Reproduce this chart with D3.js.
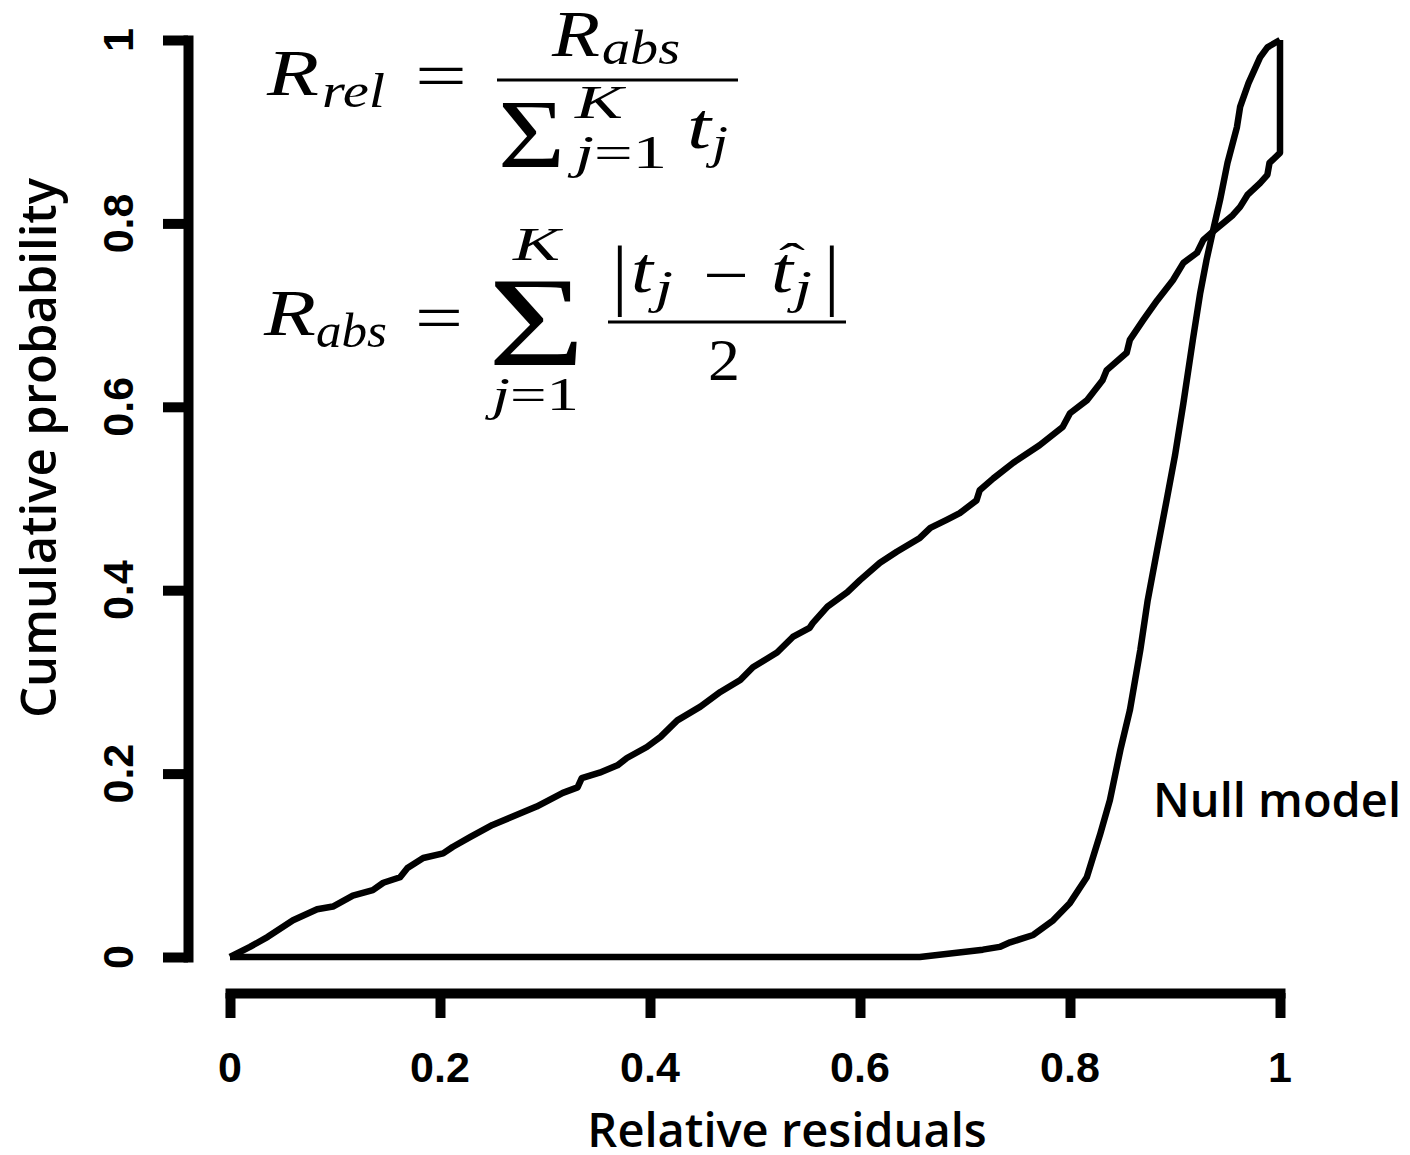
<!DOCTYPE html>
<html>
<head>
<meta charset="utf-8">
<script src="https://cdn.jsdelivr.net/npm/d3@7"></script>
<style>
  body { margin: 0; background: #fff; }
  .tick-label { font-family: "Liberation Sans", Arial, sans-serif; font-weight: bold; font-size: 43px; }
  .title { font-family: "Open Sans", "Noto Sans", sans-serif; font-weight: 600; }
  .math { font-family: "Liberation Serif", "Times New Roman", serif; }
</style>
</head>
<body>
<div id="content"></div>
<script>
const width = 1410;
const height = 1155;

// model ECDF of relative residuals
const modelX = [0, 0.019, 0.036, 0.060, 0.083, 0.098, 0.117, 0.136, 0.146, 0.162, 0.169, 0.184,
  0.203, 0.212, 0.229, 0.250, 0.267, 0.292, 0.317, 0.331, 0.335, 0.352, 0.369, 0.378, 0.397,
  0.410, 0.426, 0.448, 0.467, 0.486, 0.498, 0.521, 0.536, 0.552, 0.555, 0.569, 0.588, 0.600,
  0.619, 0.635, 0.657, 0.667, 0.683, 0.695, 0.711, 0.714, 0.727, 0.746, 0.771, 0.793, 0.800,
  0.816, 0.831, 0.835, 0.854, 0.857, 0.870, 0.883, 0.898, 0.908, 0.921, 0.927, 0.936, 0.955,
  0.962, 0.969, 0.981, 0.988, 0.990, 1.000, 1.000];
const modelY = [0, 0.011, 0.022, 0.040, 0.052, 0.055, 0.067, 0.073, 0.081, 0.087, 0.097, 0.108,
  0.113, 0.120, 0.131, 0.144, 0.152, 0.164, 0.179, 0.185, 0.195, 0.201, 0.209, 0.217, 0.229,
  0.240, 0.258, 0.273, 0.289, 0.302, 0.316, 0.332, 0.349, 0.359, 0.364, 0.382, 0.398, 0.411,
  0.430, 0.442, 0.457, 0.468, 0.477, 0.484, 0.498, 0.509, 0.522, 0.539, 0.558, 0.578, 0.593,
  0.607, 0.629, 0.640, 0.659, 0.673, 0.695, 0.716, 0.738, 0.757, 0.768, 0.782, 0.791, 0.809,
  0.818, 0.831, 0.844, 0.853, 0.866, 0.877, 1.000];

// null model ECDF
const nullX = [0, 0.657, 0.717, 0.733, 0.743, 0.765, 0.784, 0.800, 0.816, 0.829, 0.838, 0.848,
  0.857, 0.867, 0.874, 0.883, 0.892, 0.900, 0.908, 0.917, 0.924, 0.930, 0.936, 0.943, 0.950,
  0.959, 0.962, 0.970, 0.981, 0.988, 1.000];
const nullY = [0, 0, 0.008, 0.011, 0.016, 0.024, 0.040, 0.059, 0.087, 0.135, 0.171, 0.226,
  0.269, 0.335, 0.389, 0.444, 0.498, 0.547, 0.604, 0.673, 0.724, 0.760, 0.791, 0.826, 0.866,
  0.905, 0.927, 0.953, 0.981, 0.992, 1.000];

const xTicks = [0, 0.2, 0.4, 0.6, 0.8, 1];
const yTicks = [0, 0.2, 0.4, 0.6, 0.8, 1];
const xTitle = "Relative residuals";
const yTitle = "Cumulative probability";
const nullLabel = "Null model";

var svg = d3.select("#content").append("svg")
    .attr("width", width)
    .attr("height", height);

svg.append("rect").attr("width", width).attr("height", height).attr("fill", "#fff");

var x_scale = d3.scaleLinear().domain([0, 1]).range([230, 1280]);
var y_scale = d3.scaleLinear().domain([0, 1]).range([957, 40]);

// axes, R style: detached and thick
var xAxis = svg.append("g")
    .attr("transform", "translate(0, 993)")
    .call(d3.axisBottom(x_scale).tickValues(xTicks).tickSize(25).tickSizeOuter(0).tickFormat(""));
var yAxis = svg.append("g")
    .attr("transform", "translate(188, 0)")
    .call(d3.axisLeft(y_scale).tickValues(yTicks).tickSize(25).tickSizeOuter(0).tickFormat(""));

[xAxis, yAxis].forEach(g => {
    g.select(".domain").attr("stroke", "#000").attr("stroke-width", 10).attr("stroke-linecap", "square");
    g.selectAll(".tick line").attr("stroke", "#000").attr("stroke-width", 10);
});

svg.selectAll(".xlab").data(xTicks).enter().append("text")
    .attr("class", "tick-label")
    .attr("x", d => x_scale(d))
    .attr("y", 1082)
    .attr("text-anchor", "middle")
    .text(d => String(d));

svg.selectAll(".ylab").data(yTicks).enter().append("text")
    .attr("class", "tick-label")
    .attr("transform", d => `translate(133, ${y_scale(d)}) rotate(-90)`)
    .attr("text-anchor", "middle")
    .text(d => String(d));

// axis titles
svg.append("text").attr("class", "title")
    .attr("x", 787).attr("y", 1147)
    .attr("text-anchor", "middle")
    .attr("font-size", 47)
    .text(xTitle);

svg.append("text").attr("class", "title")
    .attr("transform", "translate(56, 448) rotate(-90)")
    .attr("text-anchor", "middle")
    .attr("font-size", 49)
    .text(yTitle);

// curves
var line = d3.line()
    .x(d => x_scale(d[0]))
    .y(d => y_scale(d[1]));

var modelPts = modelX.map((v, i) => [v, modelY[i]]);
var nullPts = nullX.map((v, i) => [v, nullY[i]]);

[nullPts, modelPts].forEach(pts => {
    svg.append("path")
        .attr("d", line(pts))
        .attr("fill", "none")
        .attr("stroke", "#000")
        .attr("stroke-width", 6.5)
        .attr("stroke-linejoin", "round");
});

svg.append("text").attr("class", "title")
    .attr("x", 1153).attr("y", 817)
    .attr("font-size", 47)
    .text(nullLabel);

// formulas
var math = svg.append("g").attr("class", "math");

function mtext(str, x, y, size, italic, len) {
    var t = math.append("text")
        .attr("x", x).attr("y", y)
        .attr("font-size", size)
        .attr("font-style", italic ? "italic" : "normal")
        .text(str);
    if (len) t.attr("textLength", len).attr("lengthAdjust", "spacingAndGlyphs");
    return t;
}

function jEq1(x, y, size, len) {
    var t = math.append("text")
        .attr("x", x).attr("y", y)
        .attr("font-size", size)
        .attr("textLength", len).attr("lengthAdjust", "spacingAndGlyphs");
    t.append("tspan").attr("font-style", "italic").text("j");
    t.append("tspan").text("=1");
}

function fracLine(x1, x2, y) {
    math.append("line")
        .attr("x1", x1).attr("x2", x2).attr("y1", y).attr("y2", y)
        .attr("stroke", "#000").attr("stroke-width", 3);
}

// R_rel = R_abs / sum_{j=1}^K t_j
mtext("R", 267, 95, 66, true, 52);
mtext("rel", 322, 107, 48, true, 63);
mtext("=", 415, 98, 66, false, 52);
fracLine(497, 738, 80);
mtext("R", 552, 56, 66, true, 48);
mtext("abs", 602, 64, 48, true, 78);
mtext("Σ", 498, 167, 98, false, 67);
mtext("K", 575, 118, 46, true, 48);
jEq1(575, 168, 46, 92);
mtext("t", 687, 148, 66, true, 24);
mtext("j", 712, 158, 46, true, 16);

// R_abs = sum_{j=1}^K |t_j - t^_j| / 2
mtext("R", 264, 335, 66, true, 52);
mtext("abs", 316, 347, 48, true, 71);
mtext("=", 415, 340, 66, false, 48);
mtext("Σ", 488, 365, 128, false, 97);
mtext("K", 513, 260, 46, true, 47);
jEq1(492, 410, 46, 87);
mtext("|", 612, 300, 78, false);
mtext("t", 631, 292, 66, true, 22);
mtext("j", 655, 303, 46, true, 18);
mtext("−", 703, 297, 66, false, 46);
mtext("t", 771, 292, 66, true, 22);
mtext("ˆ", 779, 276, 46, false, 26);
mtext("j", 794, 303, 46, true, 18);
mtext("|", 824, 300, 78, false);
fracLine(608, 846, 322);
mtext("2", 708, 380, 60, false, 32);
</script>
</body>
</html>
